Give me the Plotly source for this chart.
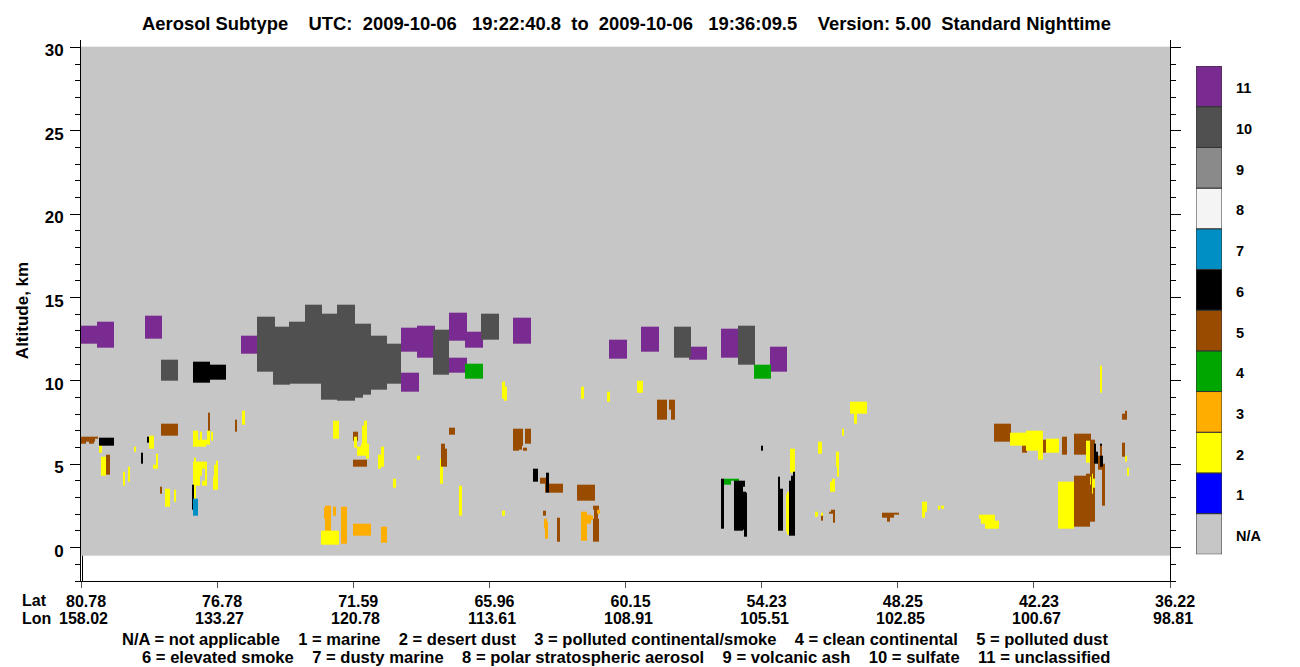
import numpy as np
import plotly.graph_objects as go

FONT = "Liberation Sans"
TITLE = "Aerosol Subtype    UTC:  2009-10-06   19:22:40.8  to  2009-10-06   19:36:09.5    Version: 5.00  Standard Nighttime"
KEY_LINE_1 = "N/A = not applicable    1 = marine    2 = desert dust    3 = polluted continental/smoke    4 = clean continental    5 = polluted dust"
KEY_LINE_2 = "6 = elevated smoke    7 = dusty marine    8 = polar stratospheric aerosol    9 = volcanic ash    10 = sulfate    11 = unclassified"

LAT_LABELS = ["80.78", "76.78", "71.59", "65.96", "60.15", "54.23", "48.25", "42.23", "36.22"]
LON_LABELS = ["158.02", "133.27", "120.78", "113.61", "108.91", "105.51", "102.85", "100.67", "98.81"]
TRACK_TICKS = [0, 136.1, 272.2, 408.4, 544.5, 680.6, 816.8, 952.9, 1089]

CLASS_LABELS = ["N/A", "1", "2", "3", "4", "5", "6", "7", "8", "9", "10", "11"]
CLASS_COLORS = ["#c6c6c6", "#0000ff", "#ffff00", "#ffae00", "#00a600", "#994c00",
                "#000000", "#008fc4", "#f4f4f4", "#8a8a8a", "#505050", "#7a2b92"]

# Each layer: (track start, track end, altitude bottom km, altitude top km)
NOT_APPLICABLE = [(1, 1089, -0.48, 30.05)]

UNCLASSIFIED = [
    (0, 16, 12.22, 13.30), (16, 33, 11.98, 13.54), (64, 81, 12.52, 13.90), (160, 176, 11.62, 12.70),
    (320, 336, 11.74, 13.18), (336, 354, 11.38, 13.30), (320, 338, 9.34, 10.48), (368, 386, 12.40, 14.08),
    (384, 402, 11.98, 12.94), (368, 386, 10.48, 11.38), (432, 450, 12.22, 13.78), (528, 546, 11.32, 12.46),
    (560, 578, 11.74, 13.24), (608, 626, 11.26, 12.04), (640, 657, 11.38, 13.12), (689, 706, 10.54, 12.04),
]

SULFATE = [
    (80, 97, 10.0, 11.26), (176, 194, 10.54, 13.84), (192, 209, 9.76, 13.24), (208, 224, 9.82, 13.54),
    (224, 241, 9.82, 14.56), (240, 256, 8.86, 14.02), (256, 274, 8.80, 14.56), (274, 282, 8.98, 13.42),
    (282, 290, 9.2, 13.42), (289, 306, 9.46, 12.70), (306, 320, 9.82, 12.22), (352, 368, 10.36, 13.06),
    (400, 418, 12.46, 14.02), (593, 610, 11.38, 13.24), (657, 674, 10.96, 13.30),
]

CLEAN_CONTINENTAL = [(384, 402, 10.12, 11.02), (673, 690, 10.12, 10.96), (642, 658, 4.0, 4.12), (642, 650, 3.76, 4.12)]

POLLUTED_DUST = [
    (0, 17, 6.52, 6.64), (0, 5, 6.22, 6.52), (5, 14, 6.34, 6.52), (8, 13, 6.22, 6.34), (25, 29, 4.36, 5.56),
    (80, 97, 6.70, 7.42), (127, 129, 7.0, 8.08), (154, 156, 6.94, 7.66), (272, 277, 6.40, 6.94),
    (272, 286, 4.84, 5.26), (79, 81, 3.22, 3.64), (368, 374, 6.76, 7.18), (432, 442, 6.10, 7.12),
    (432, 438, 5.80, 6.10), (438, 441, 5.86, 6.10), (444, 450, 6.22, 7.12), (442, 446, 5.80, 5.98),
    (576, 586, 7.66, 8.86), (588, 590, 8.26, 8.86), (590, 594, 7.66, 8.86), (360, 366, 4.84, 5.92),
    (360, 364, 5.92, 6.22), (459, 465, 3.82, 4.18), (464, 482, 3.28, 3.82), (496, 514, 2.80, 3.76),
    (462, 465, 1.90, 2.20), (476, 479, 0.34, 1.78), (512, 518, 0.34, 1.72), (512, 518, 2.26, 2.50),
    (513, 517, 1.72, 2.26), (740, 742, 1.60, 1.90), (750, 754, 2.02, 2.26), (748, 754, 2.02, 2.14),
    (752, 754, 1.48, 2.02), (801, 818, 1.96, 2.08), (801, 813, 1.78, 1.96), (806, 809, 1.54, 1.78),
    (913, 930, 6.34, 7.42), (941, 946, 5.68, 6.52), (961, 965, 5.68, 6.46), (981, 986, 5.56, 6.64),
    (993, 1010, 5.56, 6.82), (1009, 1014, 4.66, 6.46), (993, 1009, 1.24, 4.30), (1005, 1014, 1.54, 4.42),
    (1009, 1014, 1.54, 4.8), (1019, 1021, 5.5, 6.1), (1017, 1022, 4.66, 5.5), (1021, 1024, 2.5, 5.02),
    (1041, 1044, 5.44, 6.28), (1041, 1046, 7.66, 8.02), (1044, 1046, 8.02, 8.2),
]

DESERT_DUST = [
    (18, 21, 5.68, 6.34), (20, 25, 4.30, 5.44), (68, 73, 5.92, 6.70), (53, 55, 5.74, 6.04),
    (75, 77, 4.72, 5.62), (72, 77, 4.72, 4.96), (42, 44, 3.70, 4.54), (47, 49, 3.94, 4.84),
    (84, 89, 2.44, 3.52), (93, 95, 2.74, 3.46), (161, 164, 7.36, 8.2), (112, 117, 6.04, 7.0),
    (117, 125, 6.04, 6.46), (125, 129, 6.16, 6.46), (119, 121, 6.46, 6.94), (126, 129, 6.46, 7.0),
    (130, 132, 6.4, 6.94), (113, 115, 5.14, 5.38), (112, 126, 4.72, 5.14), (112, 121, 4.30, 4.72),
    (112, 119, 3.70, 4.30), (124, 126, 3.70, 4.72), (121, 126, 3.70, 4.0), (133, 137, 4.24, 4.96),
    (135, 137, 4.96, 5.2), (132, 137, 3.46, 4.24), (113, 115, 2.62, 3.70), (240, 258, 0.16, 1.0),
    (252, 258, 6.52, 7.6), (273, 276, 5.98, 6.64), (276, 288, 5.50, 6.04), (280, 288, 6.04, 6.22),
    (281, 286, 6.22, 7.30), (283, 286, 7.30, 7.60), (285, 288, 5.32, 5.50),
    (421, 424, 8.92, 9.94), (423, 426, 8.80, 9.64), (500, 503, 8.92, 9.64), (526, 529, 8.74, 9.34),
    (556, 562, 9.28, 10.0), (300, 303, 4.84, 6.04), (297, 300, 4.72, 5.56), (336, 339, 5.26, 5.50),
    (312, 315, 3.58, 4.12), (359, 360, 3.82, 5.32), (359, 362, 3.82, 4.84), (378, 381, 1.90, 3.70),
    (421, 424, 1.90, 2.20), (709, 714, 4.48, 5.92), (705, 708, 0.94, 3.16), (706, 709, 0.76, 3.34),
    (769, 786, 8.02, 8.74), (773, 776, 7.42, 8.02), (761, 763, 6.70, 7.12), (737, 741, 5.62, 6.34),
    (755, 758, 4.84, 5.74), (756, 758, 4.24, 4.84), (749, 754, 3.34, 3.94), (751, 754, 3.94, 4.12),
    (734, 737, 1.84, 2.14), (740, 742, 1.90, 2.08), (841, 846, 2.14, 2.74), (841, 844, 1.78, 2.14),
    (857, 859, 2.26, 2.5), (860, 863, 2.32, 2.5), (898, 914, 1.76, 1.96), (900, 914, 1.46, 1.76),
    (904, 914, 1.12, 1.46), (913, 918, 1.12, 1.60), (929, 945, 6.10, 6.88), (945, 962, 5.80, 7.0),
    (957, 962, 5.26, 5.80), (965, 978, 5.68, 6.52), (977, 993, 1.12, 3.94), (1005, 1009, 5.08, 6.40),
    (1019, 1021, 9.28, 10.90), (1044, 1046, 5.14, 5.5), (1046, 1048, 4.30, 4.78),
    (1011, 1014, 3.58, 4.12), (1009, 1010, 3.76, 4.24), (1011, 1012, 3.22, 4.42),
]

POLLUTED_CONTINENTAL = [
    (243, 250, 1.72, 2.38), (244, 250, 1.0, 2.5), (252, 255, 1.9, 2.44), (260, 266, 0.22, 2.44),
    (272, 290, 0.70, 1.42), (300, 306, 0.28, 1.24), (463, 466, 1.12, 1.72), (464, 467, 0.52, 1.54),
    (500, 506, 0.40, 2.14), (506, 510, 1.42, 1.96), (510, 512, 1.66, 1.90), (516, 519, 2.02, 2.26),
]

ELEVATED_SMOKE = [
    (112, 129, 9.88, 11.14), (129, 145, 10.06, 10.96), (18, 33, 6.10, 6.58), (66, 68, 6.28, 6.64),
    (60, 62, 5.02, 5.68), (111, 113, 2.26, 3.76), (452, 457, 3.94, 4.72), (465, 468, 3.28, 4.48),
    (680, 682, 5.80, 6.10), (640, 643, 1.12, 4.12), (653, 662, 1.0, 4.0), (662, 664, 3.64, 4.0),
    (659, 665, 1.06, 3.34), (663, 666, 0.64, 3.28), (697, 699, 1.0, 4.24), (698, 702, 1.0, 3.52),
    (708, 714, 0.70, 4.0), (710, 714, 4.0, 4.30), (712, 714, 4.30, 4.54), (1013, 1015, 5.02, 6.22),
    (1015, 1017, 5.02, 5.74), (1019, 1021, 6.1, 6.22), (1019, 1022, 4.84, 5.5),
]

DUSTY_MARINE = [(112, 117, 1.9, 2.92)]

# Painting order: later layers sit on top of earlier ones.
LAYERS = [
    (0, NOT_APPLICABLE), (11, UNCLASSIFIED), (10, SULFATE), (4, CLEAN_CONTINENTAL), (5, POLLUTED_DUST),
    (2, DESERT_DUST), (3, POLLUTED_CONTINENTAL), (6, ELEVATED_SMOKE), (7, DUSTY_MARINE),
]

x_edges = sorted({v for _, layer in LAYERS for p in layer for v in p[:2]})
y_edges = sorted({v for _, layer in LAYERS for p in layer for v in p[2:]})
z = np.zeros((len(y_edges) - 1, len(x_edges) - 1))
for cls, layer in LAYERS:
    for x0, x1, y0, y1 in layer:
        i0, i1 = np.searchsorted(x_edges, [x0, x1])
        j0, j1 = np.searchsorted(y_edges, [y0, y1])
        z[j0:j1, i0:i1] = cls

n = len(CLASS_COLORS)
colorscale = []
for i, c in enumerate(CLASS_COLORS):
    colorscale += [[i / n, c], [(i + 1) / n, c]]

fig = go.Figure()
fig.add_trace(go.Heatmap(x=x_edges, y=y_edges, z=z, colorscale=colorscale, zmin=-0.5, zmax=11.5,
                         showscale=False, hoverinfo="skip"))
fig.add_trace(go.Bar(x=[1] * n, y=CLASS_LABELS, orientation="h", width=1, xaxis="x2", yaxis="y2",
                     marker=dict(color=CLASS_COLORS, line=dict(color="#333333", width=1)),
                     showlegend=False, hoverinfo="skip"))

W, H = 1300, 667
PLOT_L, PLOT_R, PLOT_T, PLOT_B = 81, 1170, 40, 581

def py(v):
    return 1 - v / H

annotations = [
    dict(text=TITLE, x=626 / W, y=py(23.5), xref="paper", yref="paper", xanchor="center", yanchor="middle",
         showarrow=False, font=dict(size=18.4)),
    dict(text=KEY_LINE_1, x=614.5 / W, y=py(639), xref="paper", yref="paper", xanchor="center", yanchor="middle",
         showarrow=False, font=dict(size=16.55)),
    dict(text=KEY_LINE_2, x=626 / W, y=py(657), xref="paper", yref="paper", xanchor="center", yanchor="middle",
         showarrow=False, font=dict(size=16.6)),
    dict(text="Lat", x=20 / W, y=py(600), xref="paper", yref="paper", xanchor="left", yanchor="middle",
         showarrow=False, font=dict(size=16)),
    dict(text="Lon", x=20 / W, y=py(618), xref="paper", yref="paper", xanchor="left", yanchor="middle",
         showarrow=False, font=dict(size=16)),
]
for pos, lon in zip(TRACK_TICKS, LON_LABELS):
    annotations.append(dict(text=lon, x=pos, xshift=2.5, y=py(618), xref="x", yref="paper", xanchor="center",
                            yanchor="middle", showarrow=False, font=dict(size=16)))

fig.update_layout(
    template="none",
    width=W, height=H, autosize=False, paper_bgcolor="white", plot_bgcolor="white",
    margin=dict(l=0, r=0, t=0, b=0, pad=0),
    font=dict(family=FONT, color="black", weight=700),
    annotations=annotations,
    shapes=[dict(type="line", xref="x", yref="y", x0=1.5, x1=1.5, y0=-2, y1=-0.48,
                 line=dict(color="black", width=1))],
    xaxis=dict(domain=[PLOT_L / W, PLOT_R / W], range=[0, 1089], tickmode="array", tickvals=TRACK_TICKS,
               ticktext=LAT_LABELS, ticks="outside", ticklen=6, tickwidth=1, tickcolor="#555555",
               showline=True, linecolor="black", linewidth=1, showgrid=False, zeroline=False, automargin=False,
               tickfont=dict(size=16, weight=700), ticklabelstandoff=0, ticklabelshift=5, anchor="y"),
    yaxis=dict(domain=[1 - PLOT_B / H, 1 - PLOT_T / H], range=[-2, 30.45], tick0=0, dtick=5,
               ticks="outside", ticklen=10, tickwidth=1, tickcolor="black", showline=True, linecolor="black",
               linewidth=1, mirror="ticks", showgrid=False, zeroline=False, automargin=False,
               minor=dict(dtick=1, tick0=0, ticks="outside", ticklen=5, tickwidth=1, tickcolor="black", showgrid=False),
               tickfont=dict(size=17, weight=700), ticklabelshift=3, ticklabelstandoff=3,
               title=dict(text="Altitude, km", standoff=11, font=dict(size=17, weight=700)), anchor="x"),
    xaxis2=dict(domain=[1196 / W, 1222 / W], range=[0, 1], visible=False, anchor="y2", automargin=False),
    yaxis2=dict(domain=[1 - 554.3 / H, 1 - 66 / H], range=[-0.5, 11.5], type="category",
                categoryorder="array", categoryarray=CLASS_LABELS, side="right", anchor="x2", ticks="",
                showline=False, showgrid=False, zeroline=False, ticklabelstandoff=13, automargin=False,
                tickfont=dict(size=14.5, weight=700), ticklabelshift=2),
)

fig.write_html("out.html", post_script="document.body.style.margin='0';", config={"displayModeBar": False})
